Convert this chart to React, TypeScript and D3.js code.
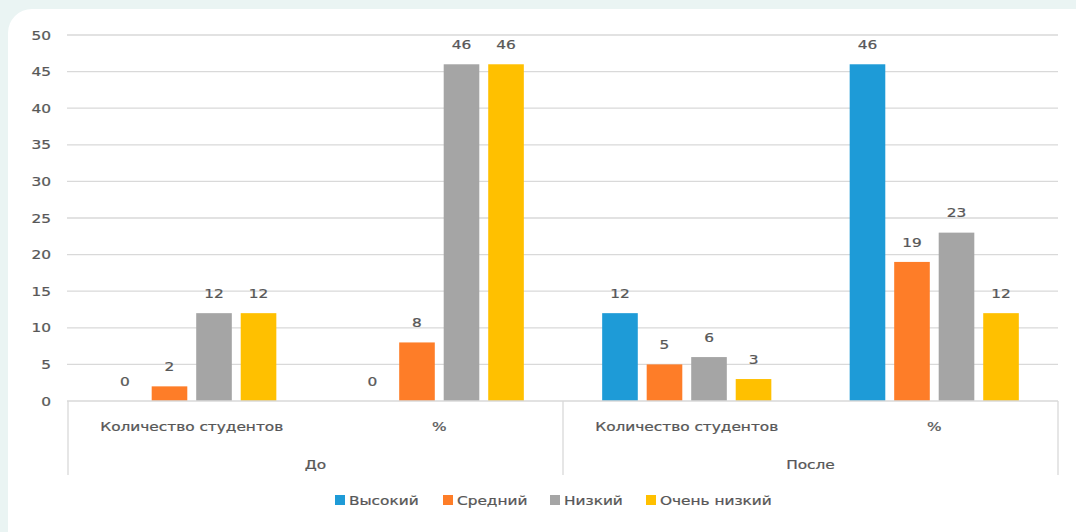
import React from "react";
import * as d3 from "d3";

const groups = ["До", "После"];
const subCategories = ["Количество студентов", "%"];
const seriesNames = ["Высокий", "Средний", "Низкий", "Очень низкий"];
const seriesColors = ["#1e9bd7", "#fe7d28", "#a5a5a5", "#ffc000"];
// values per series across [До/Кол-во, До/%, После/Кол-во, После/%]
const vysokiy = [0, 0, 12, 46];
const sredniy = [2, 8, 5, 19];
const nizkiy = [12, 46, 6, 23];
const ochenNizkiy = [12, 46, 3, 12];
const yTicks = [0, 5, 10, 15, 20, 25, 30, 35, 40, 45, 50];

const W = 1076;
const H = 532;
const FONT = "'DejaVu Sans', sans-serif";
const TEXT = "#575757";
const SX = 1.18;

function T({ x, y, anchor = "middle", children }: { x: number; y: number; anchor?: string; children: any }) {
  return (
    <text
      transform={`translate(${x},${y}) scale(${SX},1)`}
      dy="0.36em"
      textAnchor={anchor}
      fontSize={13}
      fill={TEXT}
      stroke={TEXT}
      strokeWidth={0.25}
    >
      {children}
    </text>
  );
}

export default function App() {
  const seriesValues = [vysokiy, sredniy, nizkiy, ochenNizkiy];
  const cats: { group: string; sub: string; key: string }[] = [];
  groups.forEach((g) => subCategories.forEach((s) => cats.push({ group: g, sub: s, key: g + "|" + s })));

  const x0 = d3.scaleBand<string>().domain(cats.map((c) => c.key)).range([68, 1058]).padding(0);
  const x1 = d3
    .scaleBand<string>()
    .domain(seriesNames)
    .range([0, x0.bandwidth()])
    .paddingInner(0.2)
    .paddingOuter(0.88);
  const y = d3.scaleLinear().domain([0, 50]).range([401, 35]);

  const groupX = d3.scaleBand<string>().domain(groups).range([68, 1058]).padding(0);

  const legendX = [335, 443, 550, 646];

  return (
    <svg width={W} height={H} style={{ position: "absolute", left: 0, top: 0 }} fontFamily={FONT}>
      <rect x={0} y={0} width={W} height={H} fill="#eaf4f3" />
      <rect x={8} y={9} width={W + 20} height={H + 20} rx={24} ry={24} fill="#ffffff" />
      {/* gridlines */}
      {yTicks.map((t) =>
        t === 0 ? null : (
          <line key={"g" + t} x1={67} x2={1058} y1={y(t)} y2={y(t)} stroke="#d9d9d9" strokeWidth={1.3} />
        )
      )}
      {/* y labels */}
      {yTicks.map((t) => (
        <T key={"yl" + t} x={51} y={y(t)} anchor="end">
          {t}
        </T>
      ))}
      {/* bars */}
      {cats.map((c, ci) =>
        seriesNames.map((s, si) => {
          const v = seriesValues[si][ci];
          const bx = (x0(c.key) as number) + (x1(s) as number);
          return (
            <g key={c.key + s}>
              <rect x={bx} y={y(v)} width={x1.bandwidth()} height={y(0) - y(v)} fill={seriesColors[si]} />
              <T x={bx + x1.bandwidth() / 2} y={y(v) - 20}>
                {v}
              </T>
            </g>
          );
        })
      )}
      {/* category axis */}
      <line x1={67} x2={1058} y1={y(0)} y2={y(0)} stroke="#d9d9d9" strokeWidth={1.3} />
      {[68, 563, 1058].map((vx, i) => (
        <line key={"v" + i} x1={vx} x2={vx} y1={y(0)} y2={475} stroke="#d9d9d9" strokeWidth={1.3} />
      ))}
      {cats.map((c) => (
        <T key={"cl" + c.key} x={(x0(c.key) as number) + x0.bandwidth() / 2} y={426}>
          {c.sub}
        </T>
      ))}
      {groups.map((g) => (
        <T key={"gl" + g} x={(groupX(g) as number) + groupX.bandwidth() / 2} y={464.5}>
          {g}
        </T>
      ))}
      {/* legend */}
      {seriesNames.map((s, i) => (
        <g key={"lg" + s}>
          <rect x={legendX[i]} y={495} width={10} height={10} fill={seriesColors[i]} />
          <T x={legendX[i] + 14} y={500} anchor="start">
            {s}
          </T>
        </g>
      ))}
    </svg>
  );
}
